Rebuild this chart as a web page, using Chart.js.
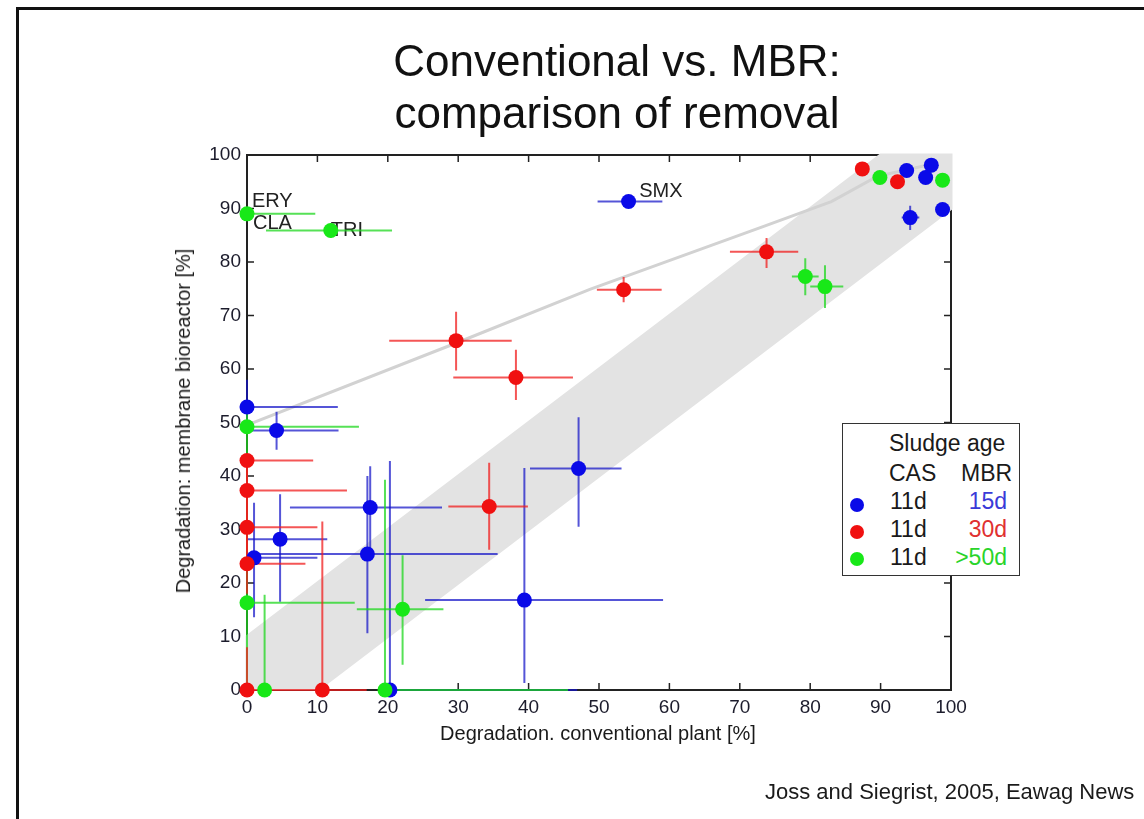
<!DOCTYPE html>
<html>
<head>
<meta charset="utf-8">
<script src="https://cdn.jsdelivr.net/npm/chart.js@4.4.1/dist/chart.umd.min.js"></script>
<style>
  body { margin: 0; background: #fff; font-family: "Liberation Sans", Arial, sans-serif; }
  #page { position: relative; width: 1144px; height: 819px; overflow: hidden; }
  #frame { position: absolute; left: 16px; top: 7px; width: 2000px; height: 2000px;
           border-top: 3px solid #111; border-left: 3px solid #111; }
  #chart { position: absolute; left: 0; top: 0; }
  .txt { position: absolute; white-space: nowrap; color: #1a1a1a; }
  #title { left: 317px; top: 35px; width: 600px; text-align: center; font-size: 44px; line-height: 52px; color: #111; }
  #xtitle { left: 598px; top: 723px; transform: translateX(-50%); font-size: 20px; line-height: 20px; }
  #ytitle { left: 183px; top: 421px; transform: translate(-50%, -50%) rotate(-90deg); font-size: 20px; line-height: 20px; }
  #source { left: 765px; top: 781px; font-size: 22px; line-height: 22px; }
  #legend { position: absolute; left: 842px; top: 423px; width: 176px; height: 151px;
            border: 1.5px solid #333; background: #fff; }
  .lg { position: absolute; white-space: nowrap; font-size: 23px; line-height: 23px; color: #1a1a1a; }
  .dot { position: absolute; width: 14px; height: 14px; border-radius: 50%; }
</style>
</head>
<body>
<div id="page">
  <div id="frame"></div>
  <canvas id="chart" width="1144" height="819"></canvas>
  <div id="title" class="txt">Conventional vs. MBR:<br>comparison of removal</div>
  <div id="xtitle" class="txt">Degradation. conventional plant [%]</div>
  <div id="ytitle" class="txt">Degradation: membrane bioreactor [%]</div>
  <div id="source" class="txt">Joss and Siegrist, 2005, Eawag News</div>
  <div id="legend"></div>
  <div class="lg" style="left:889px; top:432px;">Sludge age</div>
  <div class="lg" style="left:889px; top:462px;">CAS</div>
  <div class="lg" style="left:961px; top:462px;">MBR</div>
  <div class="dot" style="left:850px; top:498px; background:#0a0ae8;"></div>
  <div class="dot" style="left:850px; top:525px; background:#f01010;"></div>
  <div class="dot" style="left:850px; top:552px; background:#18e818;"></div>
  <div class="lg" style="left:890px; top:490px;">11d</div>
  <div class="lg" style="left:890px; top:518px;">11d</div>
  <div class="lg" style="left:890px; top:546px;">11d</div>
  <div class="lg" style="right:137px; top:490px; color:#3a3ad8;">15d</div>
  <div class="lg" style="right:137px; top:518px; color:#e03030;">30d</div>
  <div class="lg" style="right:137px; top:546px; color:#2ad42a;">&gt;50d</div>
</div>
<script>
// CAS 11d / MBR 15d (blue)
const blueX    = [54.2, 0,    4.2,  1.0,  4.7,  17.5, 17.1, 20.3, 39.4, 47.1, 93.7, 97.2, 96.4, 94.2, 98.8];
const blueY    = [91.3, 52.9, 48.5, 24.7, 28.2, 34.1, 25.4, 0,    16.8, 41.4, 97.1, 98.1, 95.8, 88.3, 89.8];
const blueXMin = [49.8, 0,    0,    0,    0,    6.1,  0.4,  20.3, 25.3, 40.2, 93.7, 97.2, 96.4, 93.0, 98.8];
const blueXMax = [59.0, 12.9, 13.0, 10.0, 11.4, 27.7, 35.6, 46.9, 59.1, 53.2, 93.7, 97.2, 96.4, 95.5, 98.8];
const blueYMin = [91.3, 50.0, 44.9, 13.6, 16.5, 26.0, 10.6, 0,    1.3,  30.5, 97.1, 98.1, 95.8, 86.0, 89.8];
const blueYMax = [91.3, 58.0, 52.0, 35.0, 36.6, 41.8, 40.0, 42.8, 41.5, 51.0, 97.1, 98.1, 95.8, 90.5, 89.8];

// CAS 11d / MBR 30d (red)
const redX    = [87.4, 92.4, 73.8, 53.5, 29.7, 38.2, 34.4, 0,    0,    0,    0,    0, 10.7];
const redY    = [97.4, 95.0, 81.9, 74.8, 65.3, 58.4, 34.3, 42.9, 37.3, 30.4, 23.6, 0, 0];
const redXMin = [87.4, 92.4, 68.6, 49.7, 20.2, 29.3, 28.6, 0,    0,    0,    0,    0, 0];
const redXMax = [87.4, 92.4, 78.3, 58.9, 37.6, 46.3, 39.9, 9.4,  14.2, 10.0, 8.3,  0, 17.0];
const redYMin = [97.4, 95.0, 78.9, 72.5, 59.7, 54.2, 26.2, 37.0, 31.0, 25.0, 18.0, 0, 0];
const redYMax = [97.4, 95.0, 84.5, 77.2, 70.7, 63.6, 42.5, 44.0, 43.0, 36.0, 30.0, 8, 31.5];

// CAS 11d / MBR >50d (green)
const greenX    = [0,    11.9, 0,    0,    2.5,  22.1, 19.6, 79.3, 82.1, 89.9, 98.8];
const greenY    = [89.0, 85.9, 49.2, 16.3, 0,    15.1, 0,    77.3, 75.4, 95.8, 95.3];
const greenXMin = [0,    2.7,  0,    0,    2.5,  15.6, 19.6, 77.4, 80.0, 89.9, 98.8];
const greenXMax = [9.7,  20.6, 15.9, 15.3, 2.5,  27.9, 45.6, 81.2, 84.7, 89.9, 98.8];
const greenYMin = [89.0, 84.5, 33.0, 0,    0,    4.7,  0,    73.8, 71.4, 95.8, 95.3];
const greenYMax = [89.0, 87.3, 54.0, 33.0, 17.8, 25.2, 39.3, 80.7, 79.4, 95.8, 95.3];

// grey trend line and the grey band around the 1:1 line
const fitX = [0, 30, 48.7, 73.3, 83, 89.5, 98];
const fitY = [49.5, 65, 74.9, 86.6, 91.3, 96, 98.5];
const bandX = [0, 0, 90, 100, 100, 10];
const bandY = [0, 10, 100, 100, 90, 0];

// compound labels
const tagText = ['ERY', 'CLA', 'TRI', 'SMX'];
const tagX = [0.7, 0.85, 11.9, 55.7];
const tagY = [90.3, 86.2, 84.9, 92.2];

const xTicks = [0, 10, 20, 30, 40, 50, 60, 70, 80, 90, 100];

const FONT = '"Liberation Sans", Arial, sans-serif';

function pts(xs, ys) {
  return xs.map((x, i) => ({ x: x, y: ys[i] }));
}
function errPts(xs, ys, x0, x1, y0, y1) {
  return xs.map((x, i) => ({ x: x, y: ys[i], xMin: x0[i], xMax: x1[i], yMin: y0[i], yMax: y1[i] }));
}

// error bars are drawn right after the grey trend line, i.e. under all markers
const errorBars = {
  id: 'errorBars',
  afterDatasetDraw(chart, args) {
    if (chart.data.datasets[args.index].id !== 'fit') return;
    const xs = chart.scales.x, ys = chart.scales.y, ctx = chart.ctx;
    ctx.save();
    ctx.lineWidth = 2;
    // back to front: blue, green, red
    chart.data.datasets.slice().reverse().forEach(ds => {
      if (!ds.errorColor) return;
      ctx.strokeStyle = ds.errorColor;
      ds.data.forEach(p => {
        const px = xs.getPixelForValue(p.x), py = ys.getPixelForValue(p.y);
        ctx.beginPath();
        if (p.xMin !== p.xMax) {
          ctx.moveTo(xs.getPixelForValue(p.xMin), py);
          ctx.lineTo(xs.getPixelForValue(p.xMax), py);
        }
        if (p.yMin !== p.yMax) {
          ctx.moveTo(px, ys.getPixelForValue(p.yMin));
          ctx.lineTo(px, ys.getPixelForValue(p.yMax));
        }
        ctx.stroke();
      });
    });
    ctx.restore();
  }
};

// inward tick marks on all four sides + compound labels
const boxTicks = {
  id: 'boxTicks',
  beforeDatasetsDraw(chart) {
    const xs = chart.scales.x, ys = chart.scales.y, ctx = chart.ctx;
    const a = chart.chartArea, len = 7;
    ctx.save();
    ctx.strokeStyle = '#222';
    ctx.lineWidth = 1.5;
    ctx.beginPath();
    xTicks.slice(1, -1).forEach(v => {
      const px = xs.getPixelForValue(v), py = ys.getPixelForValue(v);
      ctx.moveTo(px, a.bottom); ctx.lineTo(px, a.bottom - len);
      ctx.moveTo(px, a.top); ctx.lineTo(px, a.top + len);
      ctx.moveTo(a.left, py); ctx.lineTo(a.left + len, py);
      ctx.moveTo(a.right, py); ctx.lineTo(a.right - len, py);
    });
    ctx.stroke();
    ctx.fillStyle = '#222';
    ctx.font = '20px ' + FONT;
    ctx.textBaseline = 'alphabetic';
    tagText.forEach((t, i) => {
      ctx.fillText(t, xs.getPixelForValue(tagX[i]), ys.getPixelForValue(tagY[i]));
    });
    ctx.restore();
  }
};

const axisBorder = { display: true, color: '#222', width: 2 };
const noGrid = { display: false, drawTicks: false };
const tickFont = { family: FONT, size: 19 };

new Chart(document.getElementById('chart'), {
  type: 'scatter',
  data: {
    datasets: [
      {
        label: '11d / 30d', order: 0, clip: false,
        data: errPts(redX, redY, redXMin, redXMax, redYMin, redYMax),
        pointRadius: 7.5, pointBorderWidth: 0, backgroundColor: '#f01010',
        errorColor: 'rgba(240, 30, 30, 0.75)'
      },
      {
        label: '11d / >50d', order: 1, clip: false,
        data: errPts(greenX, greenY, greenXMin, greenXMax, greenYMin, greenYMax),
        pointRadius: 7.5, pointBorderWidth: 0, backgroundColor: '#18e818',
        errorColor: 'rgba(30, 215, 30, 0.75)'
      },
      {
        label: '11d / 15d', order: 2, clip: false,
        data: errPts(blueX, blueY, blueXMin, blueXMax, blueYMin, blueYMax),
        pointRadius: 7.5, pointBorderWidth: 0, backgroundColor: '#0a0ae8',
        errorColor: 'rgba(20, 20, 200, 0.72)'
      },
      {
        id: 'fit', label: 'trend', order: 3,
        data: pts(fitX, fitY), showLine: true, pointRadius: 0,
        borderColor: '#d2d2d2', borderWidth: 3
      },
      {
        id: 'band', label: 'band', order: 4, clip: 4,
        data: pts(bandX, bandY), showLine: true, pointRadius: 0,
        borderWidth: 3, borderColor: '#e3e3e3', backgroundColor: '#e3e3e3', fill: 'shape'
      }
    ]
  },
  options: {
    responsive: false,
    animation: false,
    devicePixelRatio: 1,
    events: [],
    layout: { padding: 0 },
    plugins: { legend: { display: false }, tooltip: { enabled: false }, title: { display: false } },
    scales: {
      x: {
        type: 'linear', position: 'bottom', min: 0, max: 100,
        grid: noGrid, border: axisBorder,
        afterBuildTicks: s => { s.ticks = xTicks.map(v => ({ value: v })); },
        ticks: { autoSkip: false, maxRotation: 0, padding: 6, color: '#1c1c2c', font: tickFont },
        afterFit: s => { s.height = 129; }
      },
      y: {
        type: 'linear', position: 'left', min: 0, max: 100,
        grid: noGrid, border: axisBorder,
        afterBuildTicks: s => { s.ticks = xTicks.map(v => ({ value: v })); },
        ticks: { autoSkip: false, padding: 6, color: '#1c1c2c', font: tickFont },
        afterFit: s => { s.width = 247; }
      },
      x2: {
        type: 'linear', position: 'top', min: 0, max: 100,
        grid: noGrid, border: axisBorder, ticks: { display: false },
        afterFit: s => { s.height = 155; }
      },
      y2: {
        type: 'linear', position: 'right', min: 0, max: 100,
        grid: noGrid, border: axisBorder, ticks: { display: false },
        afterFit: s => { s.width = 193; }
      }
    }
  },
  plugins: [boxTicks, errorBars]
});
</script>
</body>
</html>
